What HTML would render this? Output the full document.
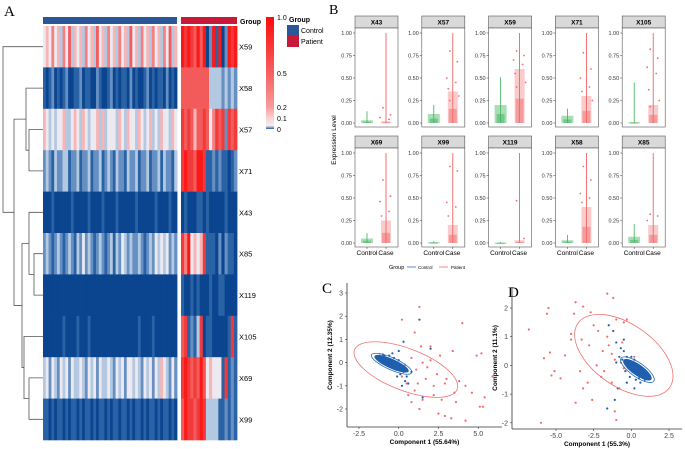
<!DOCTYPE html>
<html><head><meta charset="utf-8"><style>
html,body{margin:0;padding:0;background:#fff;}
svg{display:block;font-family:"Liberation Sans",sans-serif;}
</style></head><body>
<svg id="fig" width="685" height="449" viewBox="0 0 685 449"></svg>
<script>
// ---------- Heatmap data (digit 0..9 = low..high expression) ----------
const hmGenes = ["X59","X58","X57","X71","X43","X85","X119","X105","X69","X99"];
const hmControl = [
 "454645364735453645374536453645374536453645364735",
 "101201012001120110021001201011020100120101102010",
 "543434453345435434453534443543544354345343544354",
 "232132233122312231223123213221322312231223132213",
 "000100000010000010000100001000000100000010000100",
 "232123212321324232123212313243232232123243434232",
 "000000000000000000000000000000000000000000000000",
 "000000010000100010000000000000000010000100000000",
 "342432434243343243424334324342443432434243543242",
 "110101101011010110101101011011010110101101011010"];
const hmPatient = [
 "989879790291902989",
 "777777777333323232",
 "878757787468782878",
 "898879981121211012",
 "010001101000001000",
 "869454581110202110",
 "100101000100110000",
 "781213801100000181",
 "898787974544418121",
 "798878983333112121"];
const hmColors = ["#0b4590","#2a62a6","#6790c2","#b3c8e1","#eceaf0","#f7b5b5","#f68080","#f35a5a","#f23a3a","#fb1818"];

// ---------- Panel B data ----------
const facetGenes = ["X43","X57","X59","X71","X105","X69","X99","X119","X58","X85"];
const ctrlMax  = [0.13,0.20,0.51,0.16,0.45,0.11,0.02,0.01,0.09,0.21];
const ctrlBand = [0.03,0.10,0.20,0.08,0.01,0.05,0.01,0.005,0.03,0.07];
const caseMax  = [1,1,1,1,1,1,1,1,1,1];
const caseBand = [0.02,0.35,0.60,0.30,0.20,0.25,0.20,0.03,0.40,0.20];
const casePts = [
 [0.17,0.09,0.06,0.04],
 [0.8,0.68,0.5,0.45,0.38,0.3,0.25],
 [0.8,0.75,0.7,0.65,0.55,0.45,0.4],
 [0.78,0.6,0.5,0.4,0.35,0.25],
 [0.82,0.72,0.62,0.55,0.37,0.25,0.18],
 [0.7,0.52,0.46,0.35,0.3],
 [0.85,0.8,0.45,0.4,0.3],
 [0.47,0.05],
 [0.85,0.7,0.55,0.5,0.45],
 [0.32,0.3,0.25]];
const yTicks = [0,0.25,0.5,0.75,1];
const yTickLabels = ["0.00","0.25","0.50","0.75","1.00"];

// ---------- Panel C data ----------
const cCaseX = [1.3,0.2,4.0,1.0,1.4,2.0,3.4,5.2,4.9,2.6,2.0,1.5,0.8,0.4,1.1,1.8,2.4,3.0,2.9,3.8,5.9,4.2,4.6,5.4,5.3,5.1,3.6,2.7,2.2,1.5,0.8,0.6,1.3,2.5,3.3,2.9,4.2,1.0,0.2,1.7,2.2,3.5,0.5,1.2];
const cCaseY = [2.4,1.85,1.7,1.3,0.7,0.7,0.5,0.4,0.3,0.3,0.1,0,0.2,-0.1,-0.3,-0.2,-0.5,-0.7,-0.9,-0.8,-0.6,-1.0,-1.3,-1.5,-1.9,-1.9,-1.7,-1.6,-1.4,-1.6,-1.7,-1.4,-2.0,-2.2,-2.4,-2.3,-2.5,-1.2,-0.6,-0.7,-1.0,-1.3,-0.9,-0.9];
const cCtrlX = [1.3,2.0,0.3,-1.2,-1.0,-0.8,-0.6,-1.1,-0.9,-0.7,-0.5,-0.4,-0.3,-0.2,0,0.1,0.3,0.5,0.2,-0.6,-0.8,-1.0,-0.3,0,0.6,0.2,1.5,0.4,-0.1,-1.3,-0.9,-0.5,-0.7,0.8,0,-0.4];
const cCtrlY = [1.85,0.6,0.9,0.3,0.35,0.2,0.3,0.1,0.0,-0.1,0.1,-0.2,-0.1,-0.3,-0.3,-0.5,-0.4,-0.6,-0.2,0.0,0.15,0.2,0.2,0.1,-0.9,-1.0,-1.5,-0.8,-0.6,0.25,0.3,-0.1,0.05,-0.4,0.5,0.4];
const cXTicks = [-2.5,0,2.5,5];
const cXLabels = ["-2.5","0.0","2.5","5.0"];
const cYTicks = [-2,-1,0,1,2,3];
const cEllCase = [0.45,-0.3,55,21,21];
const cEllCtrl = [-0.45,-0.05,22,6,24];

// ---------- Panel D data ----------
const dCaseX = [-6.8,-5.6,-5.5,-5.8,-5.4,-4.7,-5.1,-5.3,-6.0,-3.7,-3.2,-1.6,-1.2,-2.7,-3.8,-4.0,-4.4,-3.3,-2.5,-2.2,-1.6,-1.0,-0.5,-0.3,-2.8,-1.9,-1.3,-0.6,-2.3,-1.8,-1.1,-0.7,-3.4,-2.9,-2.0,-1.3,-0.5,-3.2,-3.7,-1.0,-1.1,-0.8,-0.2,0.2,-2.6,-4.0,-1.5];
const dCaseY = [1.25,1.8,2.0,0.25,0.45,-0.45,-0.2,-0.35,-2.0,2.2,2.05,2.5,2.35,1.85,1.8,0.9,0.35,0.9,1.4,1.2,1.0,1.6,1.5,1.6,0.7,0.5,0.4,0.8,0,-0.2,0.2,0.1,-0.2,-0.6,-0.4,-0.6,-0.1,-0.8,-1.3,-1.9,-1.6,-0.8,-0.1,0.3,-1.2,1.1,0.7];
const dCtrlX = [-1.6,-1.1,-0.9,-1.2,-1.0,-0.7,-0.5,-0.3,-0.6,-0.2,0,0.1,0.3,0.5,0.7,0.9,1.0,0.6,0.2,0.4,0.8,-0.4,-0.1,0.3,0.6,-0.8,-1.0,1.1,0.0,0.5,-0.3,0.2,-1.5,-0.5];
const dCtrlY = [-1.5,-1.2,-0.8,1.2,0.8,0.6,0.5,0.3,0.2,0.1,0,-0.1,-0.2,-0.3,-0.4,-0.5,-0.3,-0.1,0.2,0,-0.2,-0.2,-0.4,-0.5,-0.6,0.3,0.1,-0.45,0.3,-0.45,-0.6,-0.8,1.4,0.9];
const dXTicks = [-5,-2.5,0,2.5];
const dXLabels = ["-5.0","-2.5","0.0","2.5"];
const dYTicks = [-2,-1,0,1,2];
const dEllCase = [-0.5,0.35,56,31,35];
const dEllCtrl = [0.4,-0.15,20,7,35];

// ---------- helpers ----------
const NS="http://www.w3.org/2000/svg";
const svg=document.getElementById('fig');
function mk(tag,attrs,parent){const e=document.createElementNS(NS,tag);for(const k in attrs)e.setAttribute(k,attrs[k]);(parent||svg).appendChild(e);return e;}
function txt(s,x,y,size,attrs,parent){const e=mk('text',Object.assign({x:x,y:y,'font-size':size,fill:'#000'},attrs||{}),parent);e.textContent=s;return e;}
function grp(name){const g=mk('g',{});return g;}

// ================= Panel A =================
const pA=grp('panel-a-heatmap');
const lA=txt('A',4,16,15,{'font-family':'Liberation Serif'},pA);

const hmTop=26,rowH=41.4,cx0=43,cx1=177,px0=181,px1=237;
const gb1=mk('rect',{x:cx0,y:17,width:cx1-cx0,height:7,fill:'#2b5797'},pA);

const gb2=mk('rect',{x:px0,y:17,width:px1-px0,height:7,fill:'#c8193a'},pA);

txt('Group',240,24,7,{'font-weight':'bold'},pA);
hmGenes.forEach((g,r)=>{
  const y=hmTop+r*rowH;
  const cs=hmControl[r], ps=hmPatient[r];
  const cw=(cx1-cx0)/cs.length, pw=(px1-px0)/ps.length;
  for(let i=0;i<cs.length;i++){const c=mk('rect',{x:cx0+i*cw,y:y,width:cw+0.4,height:rowH+0.3,fill:hmColors[+cs[i]]},pA);
    }
  for(let i=0;i<ps.length;i++){const c=mk('rect',{x:px0+i*pw,y:y,width:pw+0.4,height:rowH+0.3,fill:hmColors[+ps[i]]},pA);
    }
  const t=txt(g,239,y+rowH/2+3,7.5,{},pA);
  
});
const rc=r=>hmTop+r*rowH+rowH/2;
function link(x,ya,yb,xa,xb){mk('path',{d:`M${xa},${ya}H${x}V${yb}H${xb}`,fill:'none',stroke:'#555','stroke-width':0.8},pA);}
const n5771=(rc(2)+rc(3))/2; link(29,rc(2),rc(3),43,43);
const n58=(rc(1)+n5771)/2; link(26,rc(1),n5771,43,29);
const n85=(rc(5)+rc(6))/2; link(34,rc(5),rc(6),43,43);
const n43=(rc(4)+n85)/2; link(29,rc(4),n85,43,34);
const n6999=(rc(8)+rc(9))/2; link(29,rc(8),rc(9),43,43);
const n105=(rc(7)+n6999)/2; link(24,rc(7),n6999,43,29);
const nLow=(n43+n105)/2; link(22,n43,n105,29,24);
const nMid=(n58+nLow)/2; link(14,n58,nLow,26,22);
link(3,rc(0),nMid,43,14);
const defs=mk('defs',{});
const lg=mk('linearGradient',{id:'cb',x1:0,y1:1,x2:0,y2:0},defs);
[[0,'#2a5fa5'],[0.03,'#f3f0f2'],[0.1,'#fbd0d0'],[0.2,'#f99a9a'],[0.5,'#f66060'],[1,'#ff0a0a']].forEach(s=>mk('stop',{offset:s[0],'stop-color':s[1]},lg));
const cb=mk('rect',{x:266,y:17,width:8,height:112,fill:'url(#cb)'},pA);

[['1.0',20],['0.5',76],['0.2',110],['0.1',121],['0',132]].forEach(a=>txt(a[0],277,a[1],7,{},pA));
txt('Group',289,22,7,{'font-weight':'bold'},pA);
const lb1=mk('rect',{x:287,y:25,width:12,height:11,fill:'#2b5797'},pA);

const lb2=mk('rect',{x:287,y:36,width:12,height:11,fill:'#c8193a'},pA);

txt('Control',301,33,7,{},pA); txt('Patient',301,44,7,{},pA);

// ================= Panel B =================
const pB=grp('panel-b-expression');
txt('B',329,14,14,{'font-family':'Liberation Serif'},pB);
const yt=txt('Expression Level',0,0,6.5,{transform:'translate(336,140) rotate(-90)','text-anchor':'middle'},pB);

facetGenes.forEach((g,i)=>{
  const col=i%5,row=Math.floor(i/5);
  const px=355+col*66.8, top=28+row*120;
  const ys=v=>123+row*120-v*90;
  const f=grp('facet-'+g); pB.appendChild(f);
  mk('rect',{x:px,y:top-12,width:43,height:12,fill:'#d9d9d9',stroke:'#555','stroke-width':0.6},f);
  txt(g,px+21.5,top-3.5,6.5,{'font-weight':'bold','text-anchor':'middle'},f);
  mk('rect',{x:px,y:top,width:43,height:99,fill:'#fff',stroke:'#555','stroke-width':0.6},f);
  yTicks.forEach((t,k)=>{mk('line',{x1:px-2,x2:px,y1:ys(t),y2:ys(t),stroke:'#333','stroke-width':0.5},f);
    txt(yTickLabels[k],px-3,ys(t)+2,5.5,{'text-anchor':'end',fill:'#333'},f);});
  const xc=px+12, xk=px+31;
  mk('line',{x1:xc,x2:xc,y1:ys(0),y2:ys(ctrlMax[i]),stroke:'#3cb05a','stroke-width':0.8},f);
  const cbd=mk('rect',{x:xc-6,y:ys(ctrlBand[i]),width:12,height:Math.max(1.2,ys(0)-ys(ctrlBand[i])),fill:'#41b35d',opacity:0.45},f);
  
  const cbd2=mk('rect',{x:xc-4,y:ys(ctrlBand[i]*0.5),width:8,height:Math.max(1.2,ys(0)-ys(ctrlBand[i]*0.5)),fill:'#41b35d',opacity:0.5},f);
  
  mk('line',{x1:xk,x2:xk,y1:ys(0),y2:ys(caseMax[i]),stroke:'#ef4f4f','stroke-width':0.8},f);
  const kbd=mk('rect',{x:xk-5,y:ys(caseBand[i]),width:10,height:Math.max(1.2,ys(0)-ys(caseBand[i])),fill:'#f26b6b',opacity:0.35},f);
  
  const kbd2=mk('rect',{x:xk-4,y:ys(caseBand[i]*0.45),width:8,height:Math.max(1.2,ys(0)-ys(caseBand[i]*0.45)),fill:'#f26b6b',opacity:0.5},f);
  
  casePts[i].forEach((v,k)=>{const p=mk('circle',{cx:xk+((k%2)?3:-3)*(1+(k%3)*0.5),cy:ys(v),r:0.9,fill:'#f26b6b'},f);
    });
  if(row===1){txt('Control',xc,255,6.5,{'text-anchor':'middle'},f);txt('Case',xk,255,6.5,{'text-anchor':'middle'},f);
    mk('line',{x1:xc,x2:xc,y1:247,y2:249,stroke:'#333','stroke-width':0.5},f);mk('line',{x1:xk,x2:xk,y1:247,y2:249,stroke:'#333','stroke-width':0.5},f);}
});
txt('Group',389,269,5.5,{},pB);
mk('line',{x1:407,x2:416,y1:267,y2:267,stroke:'#2a6ab5','stroke-width':0.8},pB);
txt('Control',418,269,4.5,{},pB);
mk('line',{x1:439,x2:448,y1:267,y2:267,stroke:'#f26b6b','stroke-width':0.8},pB);
txt('Patient',451,269,4.5,{},pB);

// ================= PCA panels =================
function pca(name,label,lx,box,sx,sy,xT,xL,yT,caseX,caseY,ctrlX,ctrlY,eCase,eCtrl,xTitle,yTitle){
  const g=grp(name);
  txt(label,lx,box.t+10,15,{'font-family':'Liberation Serif'},g);
  mk('line',{x1:box.l,x2:box.l,y1:box.t,y2:box.b,stroke:'#333','stroke-width':0.8},g);
  mk('line',{x1:box.l,x2:box.r,y1:box.b,y2:box.b,stroke:'#333','stroke-width':0.8},g);
  xT.forEach((t,k)=>{mk('line',{x1:sx(t),x2:sx(t),y1:box.b,y2:box.b+2,stroke:'#333','stroke-width':0.6},g);
    txt(xL[k],sx(t),box.b+9,7,{'text-anchor':'middle',fill:'#444'},g);});
  yT.forEach(t=>{mk('line',{x1:box.l-2,x2:box.l,y1:sy(t),y2:sy(t),stroke:'#333','stroke-width':0.6},g);
    txt(String(t),box.l-4,sy(t)+2.5,7,{'text-anchor':'end',fill:'#444'},g);});
  txt(xTitle,(box.l+box.r)/2,box.b+17,6.5,{'text-anchor':'middle','font-weight':'bold'},g);
  txt(yTitle,0,0,6.5,{'text-anchor':'middle','font-weight':'bold',transform:`translate(${box.l-15},${(box.t+box.b)/2}) rotate(-90)`},g);
  caseX.forEach((v,k)=>{const p=mk('circle',{cx:sx(v),cy:sy(caseY[k]),r:1.1,fill:'#f26b6b'},g);
    });
  const ec=mk('ellipse',{cx:sx(eCtrl[0]),cy:sy(eCtrl[1]),rx:eCtrl[2]*0.85,ry:eCtrl[3]*0.8,fill:'#1f5fae',transform:`rotate(${eCtrl[4]} ${sx(eCtrl[0])} ${sy(eCtrl[1])})`},g);
  
  ctrlX.forEach((v,k)=>{const p=mk('circle',{cx:sx(v),cy:sy(ctrlY[k]),r:1.1,fill:'#1f5fae'},g);
    });
  const e1=mk('ellipse',{cx:sx(eCase[0]),cy:sy(eCase[1]),rx:eCase[2],ry:eCase[3],fill:'none',stroke:'#f07070','stroke-width':0.8,transform:`rotate(${eCase[4]} ${sx(eCase[0])} ${sy(eCase[1])})`},g);
  
  const e2=mk('ellipse',{cx:sx(eCtrl[0]),cy:sy(eCtrl[1]),rx:eCtrl[2],ry:eCtrl[3],fill:'none',stroke:'#2a6ab5','stroke-width':0.8,transform:`rotate(${eCtrl[4]} ${sx(eCtrl[0])} ${sy(eCtrl[1])})`},g);
  
}
pca('panel-c-pca','C',322,{l:347,r:502,t:283,b:427},v=>359+(v+2.5)*15.9,v=>293+(3-v)*23.2,cXTicks,cXLabels,cYTicks,cCaseX,cCaseY,cCtrlX,cCtrlY,cEllCase,cEllCtrl,'Component 1 (55.64%)','Component 2 (12.35%)');
pca('panel-d-pca','D',508,{l:512,r:682,t:287,b:429},v=>556+(v+5)*15.07,v=>308+(2-v)*28.7,dXTicks,dXLabels,dYTicks,dCaseX,dCaseY,dCtrlX,dCtrlY,dEllCase,dEllCtrl,'Component 1 (55.3%)','Component 2 (11.1%)');
</script>
</body></html>
